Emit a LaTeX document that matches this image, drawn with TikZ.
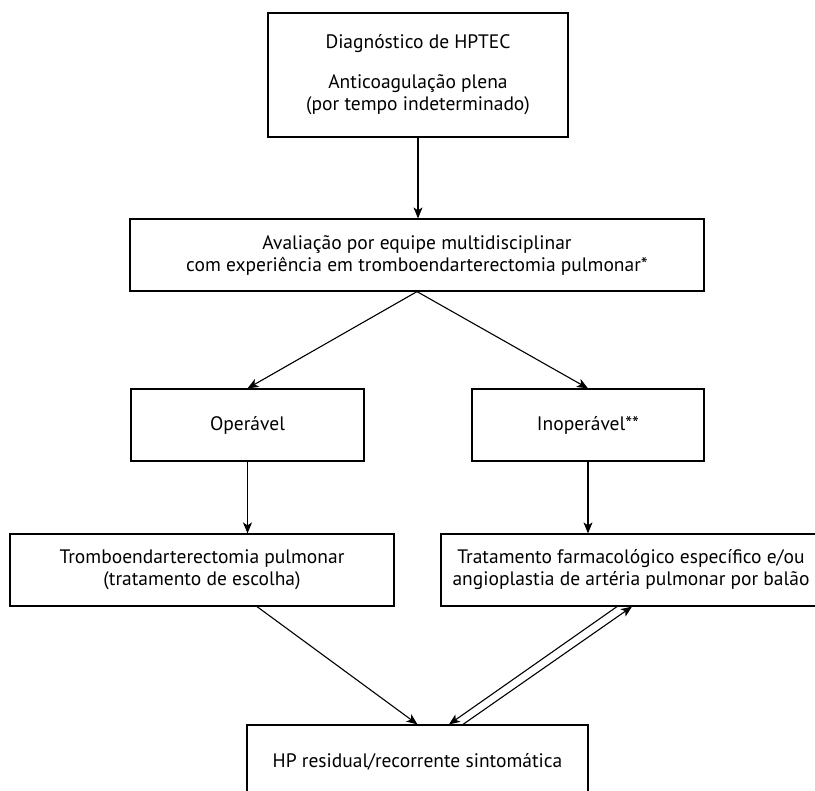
\documentclass[tikz,border=0pt]{standalone}
\usepackage{fontspec}
\setmainfont{PT Sans}
\usetikzlibrary{arrows.meta}
\begin{document}
\begin{tikzpicture}[x=1pt,y=-1pt,
  box/.style={draw, line width=1.2pt, rectangle, inner sep=0pt, align=center,
    font=\fontsize{19.5}{22}\selectfont},
  arr/.style={line width=1.1pt, -{Stealth[length=11pt,width=9pt,inset=3pt]}}]
\useasboundingbox (0,0) rectangle (815,791);
\clip (0,0) rectangle (815,791);
\node[box, minimum width=300pt, minimum height=124pt] (top) at (418,75)
  {Diagnóstico de HPTEC\\[18pt]Anticoagulação plena\\(por tempo indeterminado)};
\node[box, minimum width=574pt, minimum height=72pt] (eval) at (417,255)
  {Avaliação por equipe multidisciplinar\\com experiência em tromboendarterectomia pulmonar*};
\node[box, minimum width=233pt, minimum height=72pt] (op) at (247.5,425) {Operável};
\node[box, minimum width=232pt, minimum height=72pt] (inop) at (588,425) {Inoperável**};
\node[box, minimum width=384pt, minimum height=72pt] (trombo) at (202,570)
  {Tromboendarterectomia pulmonar\\(tratamento de escolha)};
\node[box, minimum width=380pt, minimum height=72pt] (trat) at (631,570)
  {Tratamento farmacológico específico e/ou\\angioplastia de artéria pulmonar por balão};
\node[box, minimum width=341pt, minimum height=74pt] (hp) at (417.5,762)
  {HP residual/recorrente sintomática};
\draw[arr] (top.south) -- (top.south |- eval.north);
\draw[arr] (eval.south) -- (op.north);
\draw[arr] (eval.south) -- (inop.north);
\draw[arr] (op.south) -- (op.south |- trombo.north);
\draw[arr] (inop.south) -- (inop.south |- trat.north);
\draw[arr] ([xshift=55pt]trombo.south) -- (hp.north);
\draw[arr] ([xshift=-14pt]trat.south) -- ([xshift=31.5pt]hp.north);
\draw[arr] ([xshift=45.5pt]hp.north) -- ([xshift=1pt]trat.south);
\end{tikzpicture}
\end{document}
